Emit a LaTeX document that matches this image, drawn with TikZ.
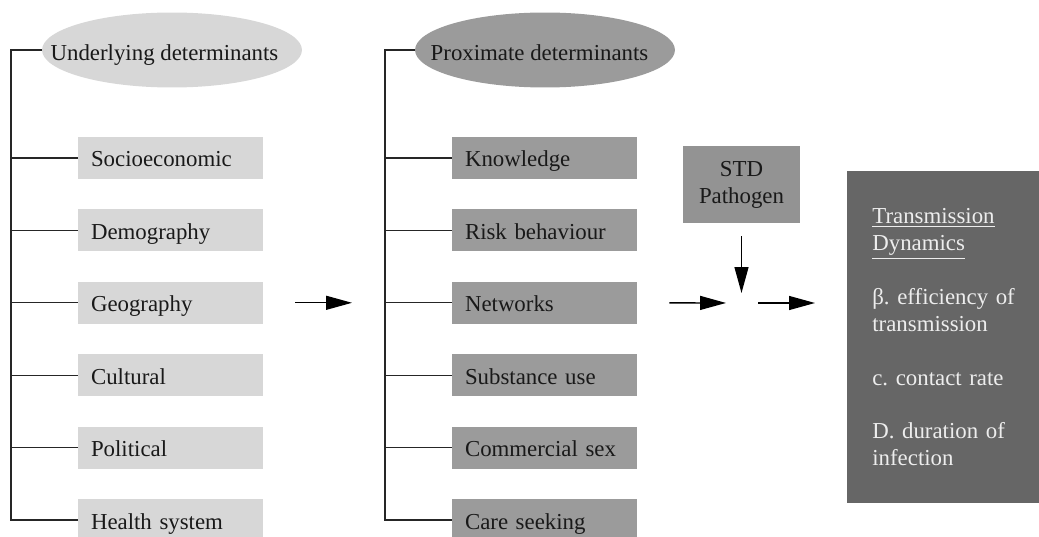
\documentclass[tikz,border=0pt]{standalone}
\usepackage{fontspec}
\setmainfont{Liberation Serif}
\usetikzlibrary{calc,shapes.geometric,arrows.meta}
\definecolor{lightgr}{HTML}{D7D7D7}
\definecolor{midgr}{HTML}{9B9B9B}
\definecolor{darkgr}{HTML}{666666}
\tikzset{
	headell/.style={ellipse, minimum width=5.2cm, minimum height=1.5cm, inner sep=0pt, text height=0.44cm, text depth=0cm},
	factbox/.style={rectangle, text width=3.18cm, inner xsep=0.26cm, inner ysep=0pt, minimum height=0.84cm, align=left, text height=0.36cm, text depth=0cm},
	conn/.style={line width=0.75pt, color=black!85},
	flow/.style={line width=0.75pt, -{Triangle[length=0.52cm, width=0.28cm]}},
}

\begin{document}
\frenchspacing
\begin{tikzpicture}[x=0.02cm, y=-0.02cm, font=\fontsize{13}{15.3}\selectfont, text=black!90]
		%%%%% START %%%%%
		\useasboundingbox (0, 0) rectangle (1039, 537);
		
		% underlying side
		\node[headell, fill=lightgr] (under) at (172, 50) {\makebox[0pt]{Underlying determinants\hspace*{0.3cm}}};
		\node[factbox, fill=lightgr] (socio) at (170.5, 158) {Socioeconomic};
		\node[factbox, fill=lightgr] (demo) at (170.5, 230.4) {Demography};
		\node[factbox, fill=lightgr] (geo) at (170.5, 302.8) {Geography};
		\node[factbox, fill=lightgr] (cult) at (170.5, 375.2) {Cultural};
		\node[factbox, fill=lightgr] (pol) at (170.5, 447.6) {Political};
		\node[factbox, fill=lightgr] (health) at (170.5, 520) {Health system};
		
		\coordinate (ubar) at (11, 50);
		\draw[conn] (under.west) -- (ubar) |- (health.west);
		\foreach \n in {socio, demo, geo, cult, pol}
			\draw[conn] (ubar |- \n.west) -- (\n.west);
		
		% proximate side
		\node[headell, fill=midgr] (prox) at (545, 50) {\makebox[0pt]{Proximate determinants\hspace*{0.22cm}}};
		\node[factbox, fill=midgr] (know) at (544.5, 158) {Knowledge};
		\node[factbox, fill=midgr] (risk) at (544.5, 230.4) {Risk behaviour};
		\node[factbox, fill=midgr] (net) at (544.5, 302.8) {Networks};
		\node[factbox, fill=midgr] (subst) at (544.5, 375.2) {Substance use};
		\node[factbox, fill=midgr] (comm) at (544.5, 447.6) {Commercial sex};
		\node[factbox, fill=midgr] (care) at (544.5, 520) {Care seeking};
		
		\coordinate (pbar) at (385, 50);
		\draw[conn] (prox.west) -- (pbar) |- (care.west);
		\foreach \n in {know, risk, net, subst, comm}
			\draw[conn] (pbar |- \n.west) -- (\n.west);
		
		% pathogen and dynamics
		\node[rectangle, fill=midgr!95!black, minimum width=2.34cm, minimum height=1.54cm, align=center] (std) at (741.5, 184.5) {STD\\Pathogen};
		\node[rectangle, fill=darkgr, text=white!93!black, minimum width=3.84cm, minimum height=6.64cm, text width=2.9cm, inner xsep=0.5cm, align=left, anchor=north west] (dyn) at (847, 171)
			{\underline{Transmission}\\\underline{Dynamics}\\[15.3pt]β. efficiency of\\transmission\\[15.3pt]c. contact rate\\[15.3pt]D. duration of\\infection};
		
		\coordinate (hub) at (744, 303);
		\draw[flow, shorten <=0.64cm, shorten >=0.66cm] (geo.east) -- (pbar |- geo.east);
		\draw[flow, shorten <=0.64cm, shorten >=0.36cm] (net.east) -- (hub);
		\draw[flow, shorten <=0.26cm, shorten >=0.2cm] (std.south) -- (std.south |- hub);
		\draw[flow, shorten <=0.28cm, shorten >=0.64cm] (hub) -- (hub -| dyn.west);
		
		%%%%% END %%%%%
	\end{tikzpicture}
\end{document}
